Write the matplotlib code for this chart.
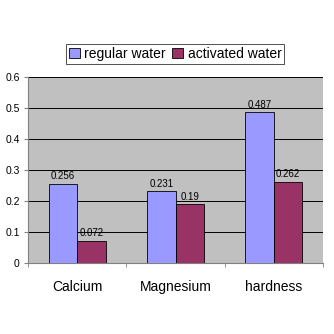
import matplotlib
matplotlib.use("Agg")
import matplotlib.pyplot as plt
import numpy as np

plt.rcParams['font.family'] = ['Liberation Sans', 'DejaVu Sans']

categories = ["Calcium", "Magnesium", "hardness"]
series_names = ["regular water", "activated water"]
regular = [0.256, 0.231, 0.487]
activated = [0.072, 0.19, 0.262]
yticks = [0, 0.1, 0.2, 0.3, 0.4, 0.5, 0.6]

fig = plt.figure(figsize=(3.34, 3.34), dpi=100)
ax = fig.add_axes([28/334, 1-263/334, 295/334, 186/334])
ax.set_facecolor('#C0C0C0')
x = np.arange(len(categories))
w = 0.29
b1 = ax.bar(x - w/2, regular, w, color='#9999FF', edgecolor='black', linewidth=0.6, label=series_names[0], zorder=3)
b2 = ax.bar(x + w/2, activated, w, color='#993366', edgecolor='black', linewidth=0.6, label=series_names[1], zorder=3)
for rects, vals in ((b1, regular), (b2, activated)):
    for r, v in zip(rects, vals):
        ax.text(r.get_x() + r.get_width()/2, v + 0.008, f"{v:g}", ha='center', va='bottom', fontsize=7, zorder=4)

ax.set_xlim(-0.5, 2.5)
ax.set_ylim(0, 0.6)
ax.set_yticks(yticks)
ax.set_yticklabels([f"{t:g}" for t in yticks], fontsize=7.5)
ax.set_xticks(x)
ax.set_xticklabels(categories, fontsize=10)
ax.set_xticks([-0.5, 0.5, 1.5, 2.5], minor=True)
ax.tick_params(axis='x', which='major', length=0, pad=12)
ax.tick_params(axis='x', which='minor', length=3, color='#808080')
ax.tick_params(axis='y', length=3, color='#808080', pad=3)
ax.yaxis.grid(True, color='black', linewidth=0.7, zorder=1)
for s in ['top', 'right']:
    ax.spines[s].set_visible(False)
for s in ['left', 'bottom']:
    ax.spines[s].set_color('#808080')

leg = fig.legend(handles=[b1, b2], loc='center', bbox_to_anchor=(175/334, 1-54/334), ncol=2,
                 fontsize=10, frameon=True, fancybox=False, edgecolor='black', handlelength=0.8,
                 handleheight=0.8, handletextpad=0.3, columnspacing=0.5, borderpad=0.2, borderaxespad=0)
leg.get_frame().set_linewidth(0.6)

fig.savefig("out.png", dpi=100)
